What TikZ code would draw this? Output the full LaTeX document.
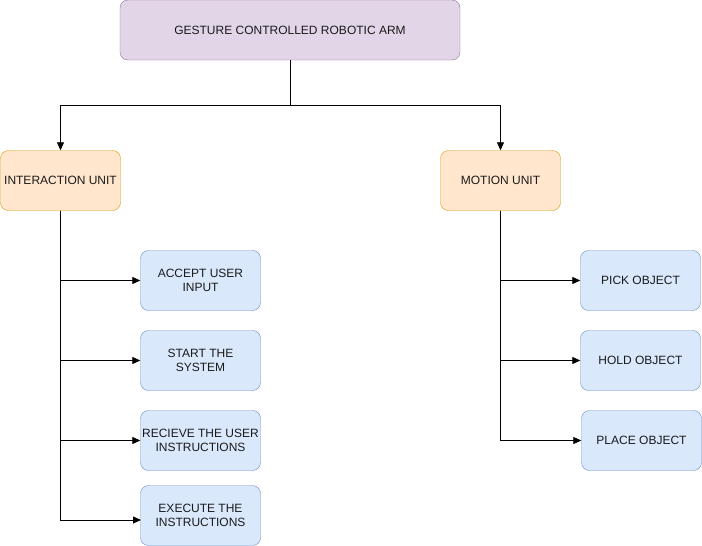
\documentclass[tikz,border=0pt]{standalone}
\usepackage{fontspec}
\setmainfont{Liberation Sans}
\usetikzlibrary{arrows.meta}
\definecolor{purplefill}{HTML}{E1D5E7}
\definecolor{purpleline}{HTML}{9673A6}
\definecolor{orangefill}{HTML}{FFE6CC}
\definecolor{orangeline}{HTML}{D79B00}
\definecolor{bluefill}{HTML}{DAE8FC}
\definecolor{blueline}{HTML}{6C8EBF}
\definecolor{textgrey}{HTML}{1A1A1A}
\begin{document}
\begin{tikzpicture}
  [x=1pt,y=-1pt,font=\fontsize{12}{14}\selectfont,
   every node/.style={rounded corners=8pt,draw,align=center,text=textgrey,inner sep=0pt},
   topbox/.style={fill=purplefill,draw=purpleline,minimum width=340pt,minimum height=60pt},
   unitbox/.style={fill=orangefill,draw=orangeline,minimum width=120pt,minimum height=60pt},
   taskbox/.style={fill=bluefill,draw=blueline,minimum width=120pt,minimum height=60pt},
   arrow/.style={-{Triangle[length=8pt,width=7pt]},line width=0.8pt}]
  \useasboundingbox (0,0) rectangle (702,546);
  \node[topbox] (arm) at (290,30) {GESTURE CONTROLLED ROBOTIC ARM};
  \node[unitbox] (iu) at (60.5,180.5) {INTERACTION UNIT};
  \node[unitbox] (mu) at (500.5,180.5) {MOTION UNIT};

  \node[taskbox] (t1) at (200.5,280.5) {ACCEPT USER\\INPUT};
  \node[taskbox] (t2) at (200.5,360.5) {START THE\\SYSTEM};
  \node[taskbox] (t3) at (200.5,440.5) {RECIEVE THE USER\\INSTRUCTIONS};
  \node[taskbox] (t4) at (200.5,515.5) {EXECUTE THE\\INSTRUCTIONS};
  \node[taskbox] (m1) at (640.5,280.5) {PICK OBJECT};
  \node[taskbox] (m2) at (640.5,360.5) {HOLD OBJECT};
  \node[taskbox] (m3) at (641.5,440.5) {PLACE OBJECT};

  \coordinate (split) at (290,105);
  \coordinate (ib) at (60.5,105);
  \coordinate (mb) at (500.5,105);
  \coordinate (e4) at (141,520);
  \coordinate (c4) at (60.5,520);

  \draw[line width=0.8pt] (arm) -- (split);
  \draw[arrow] (split) -- (ib) -- (iu);
  \draw[arrow] (split) -- (mb) -- (mu);

  \foreach \to in {t1,t2,t3}
    \draw[arrow] (iu) |- (\to);
  \draw[arrow] (iu) |- (c4) -- (e4);
  \foreach \to in {m1,m2,m3}
    \draw[arrow] (mu) |- (\to);

\end{tikzpicture}
\end{document}
